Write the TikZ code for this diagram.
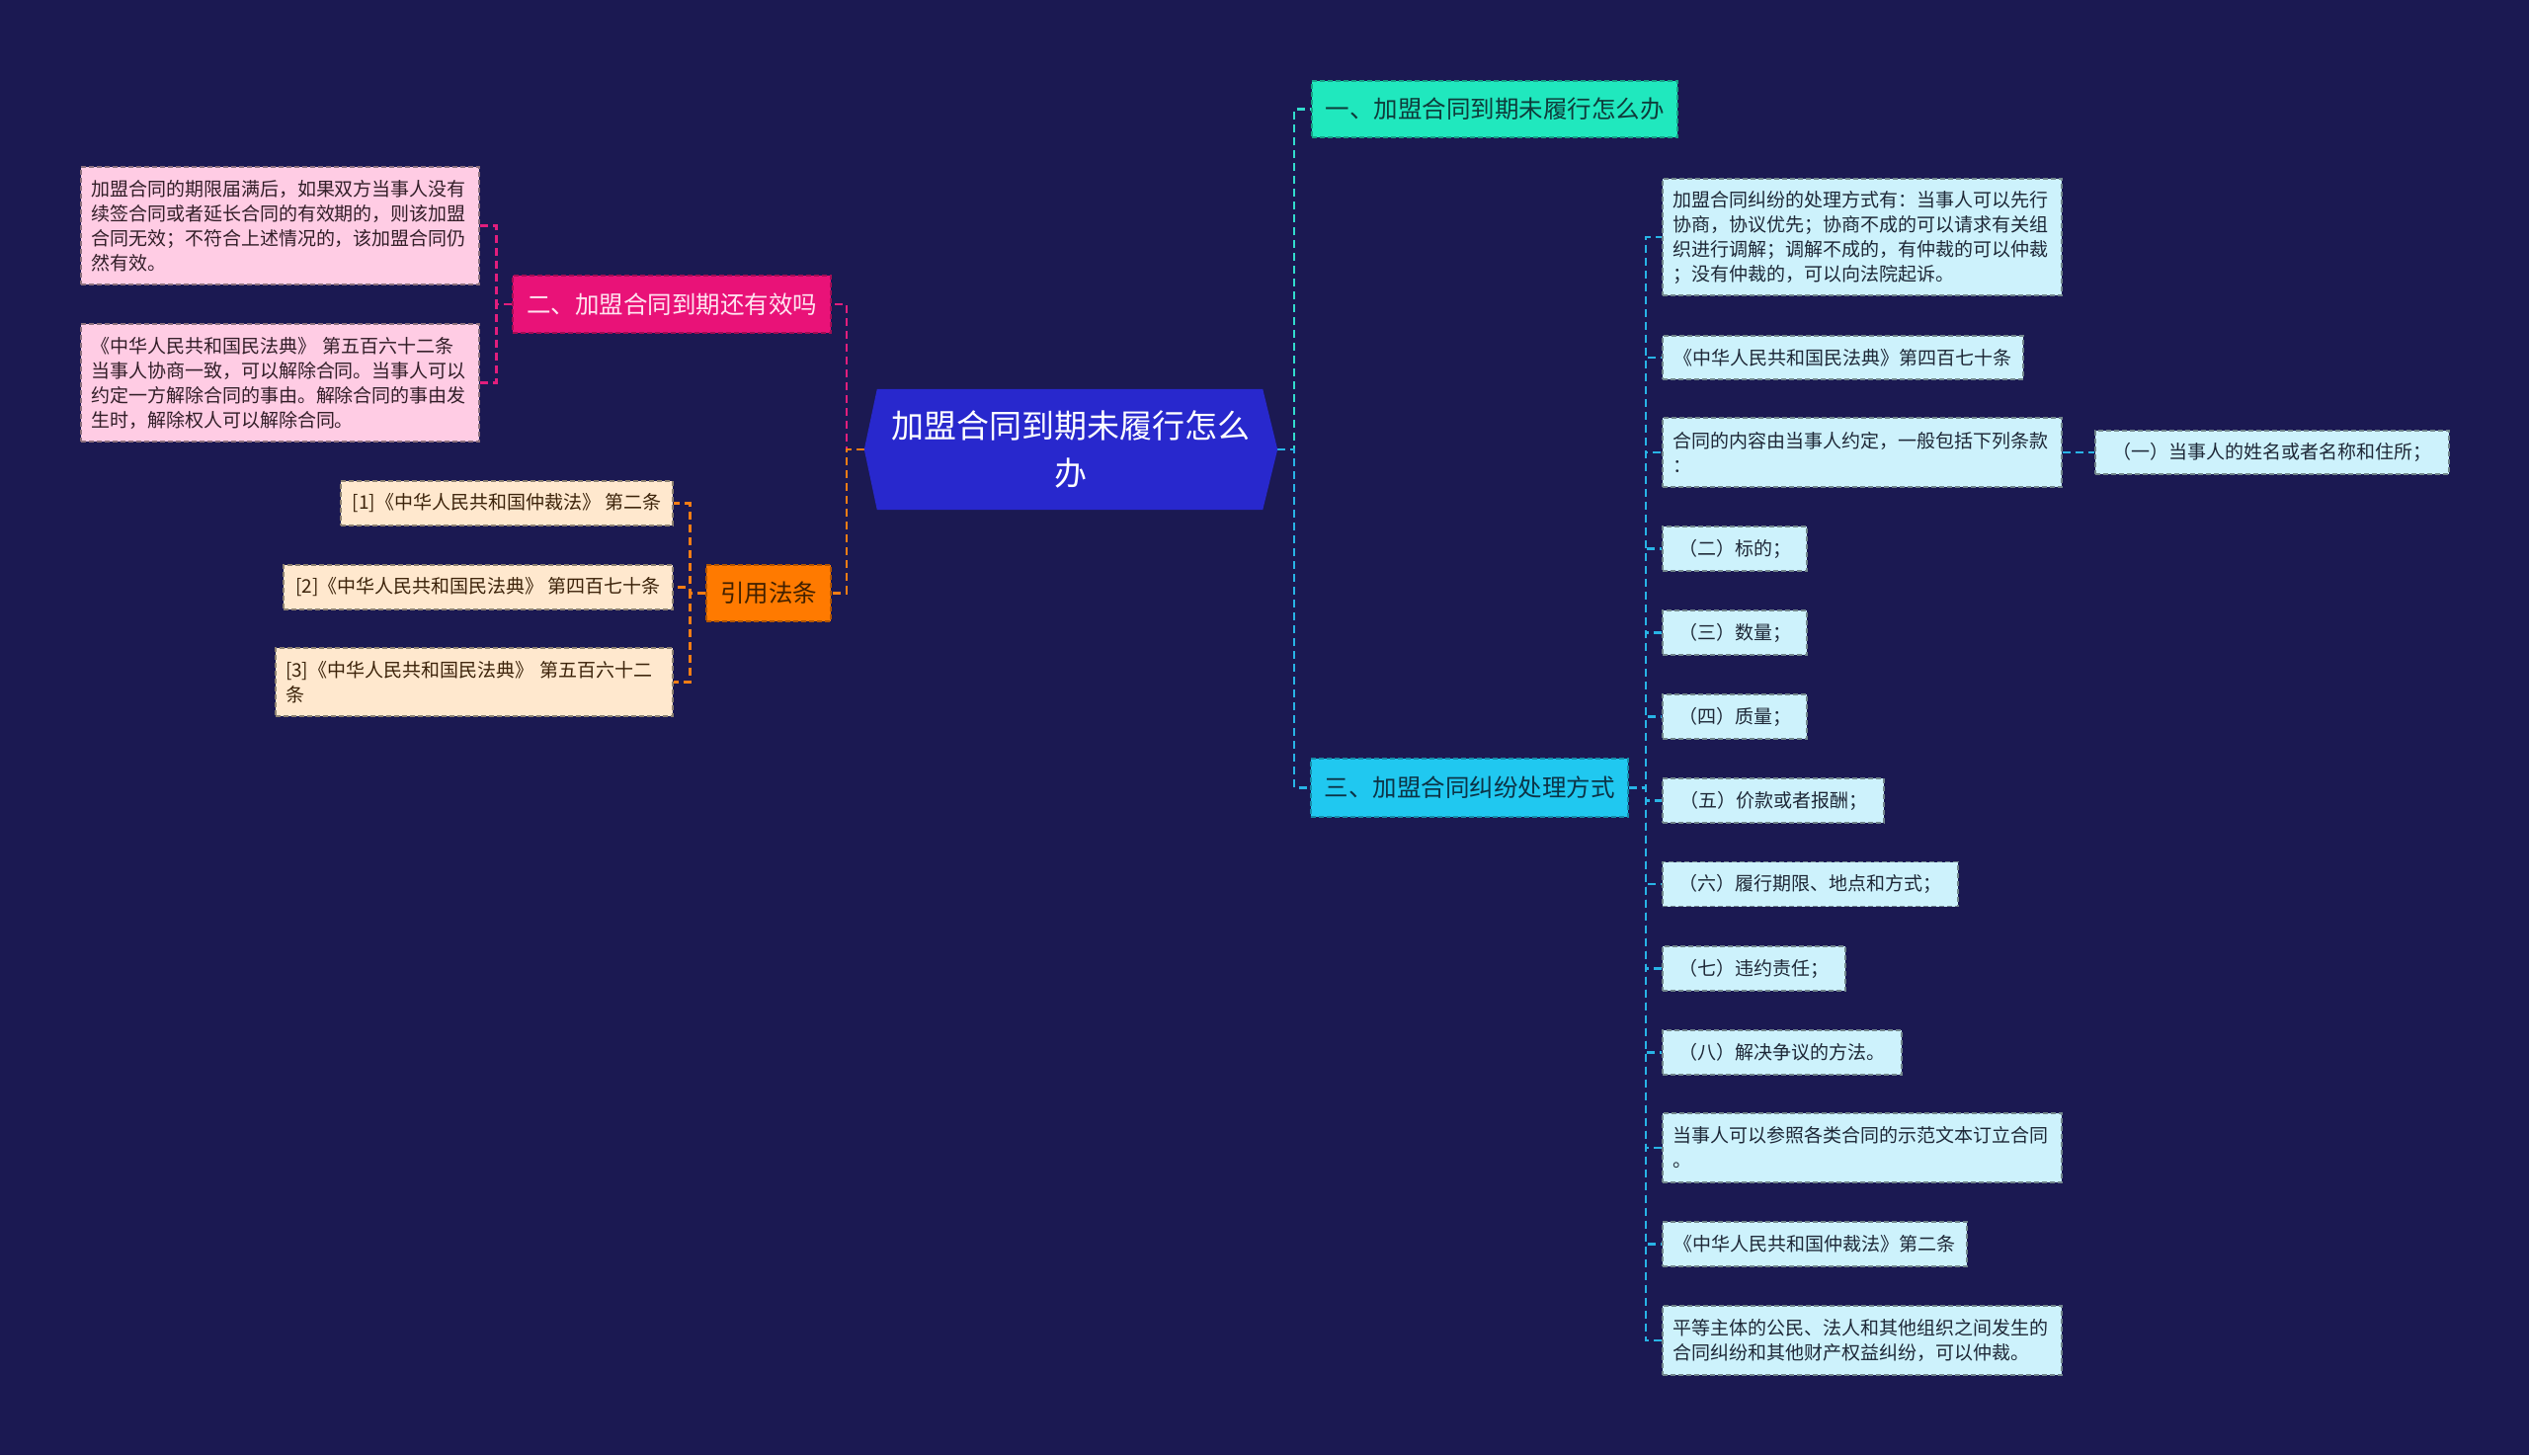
\documentclass[tikz,border=0pt]{standalone}
\usepackage{fontspec}
\newfontfamily\cjk{Noto Sans CJK SC}
\pgfdeclarelayer{bglayer}
\pgfdeclarelayer{links}
\pgfdeclarelayer{shapes}
\pgfsetlayers{bglayer,links,shapes,main}
\definecolor{bg}{RGB}{27,25,82}
\definecolor{cfill}{RGB}{40,40,205}
\definecolor{aqua}{RGB}{32,232,190}
\definecolor{sky}{RGB}{32,200,240}
\definecolor{mag}{RGB}{233,18,120}
\definecolor{org}{RGB}{255,122,0}
\definecolor{lcyan}{RGB}{205,242,252}
\definecolor{lpink}{RGB}{255,204,228}
\definecolor{lbeige}{RGB}{255,232,206}
\definecolor{tdark}{RGB}{30,40,55}
\definecolor{tpinkd}{RGB}{50,30,40}
\definecolor{tbrown}{RGB}{60,35,10}
\definecolor{lkmag}{RGB}{225,30,125}
\definecolor{lkorg}{RGB}{245,125,20}
\definecolor{lkaqua}{RGB}{50,220,205}
\definecolor{lksky}{RGB}{40,180,230}
\tikzset{
  base/.style={inner sep=0pt, font=\cjk\fontsize{19}{25}\selectfont, line width=1.3pt, dash pattern=on 5pt off 3pt},
  leafcyan/.style={base, fill=lcyan, draw=lcyan!55!black, text=tdark},
  leafpink/.style={base, fill=lpink, draw=lpink!55!black, text=tpinkd},
  leafbeige/.style={base, fill=lbeige, draw=lbeige!55!black, text=tbrown},
  multi/.style={align=left, text width=#1},
  lvlone/.style={base, font=\cjk\fontsize{24.5}{30}\selectfont, line width=1.5pt},
  link/.style={line width=2.5pt, dash pattern=on 8pt off 5pt},
}
\begin{document}
\begin{tikzpicture}[x=1pt,y=-1pt]
\begin{pgfonlayer}{bglayer}
\fill[bg] (0,0) rectangle (2560,1473);
\end{pgfonlayer}
\useasboundingbox (0,0) rectangle (2560,1473);

% central
\node[inner sep=0pt, minimum width=418pt, minimum height=122pt, align=center, text=white,
      font=\cjk\fontsize{33}{48}\selectfont] (c) at (1084,455) {加盟合同到期未履行怎么\\办};
\begin{pgfonlayer}{shapes}
\fill[cfill] ([xshift=13pt]c.north west) -- ([xshift=-15pt]c.north east) -- (c.east)
  -- ([xshift=-15pt]c.south east) -- ([xshift=13pt]c.south west) -- (c.west) -- cycle;
\end{pgfonlayer}

% level one
\node[lvlone, fill=aqua, draw=aqua!70!black, text={rgb,255:red,14;green,59;blue,58}, minimum width=370pt, minimum height=57pt] (n1) at (1513,110.5) {一、加盟合同到期未履行怎么办};
\node[lvlone, fill=mag, draw=mag!70!black, text={rgb,255:red,255;green,228;blue,240}, minimum width=322pt, minimum height=58pt] (n2) at (680,308) {二、加盟合同到期还有效吗};
\node[lvlone, fill=sky, draw=sky!70!black, text={rgb,255:red,12;green,51;blue,70}, minimum width=321pt, minimum height=59pt] (n3) at (1487.5,797.5) {三、加盟合同纠纷处理方式};
\node[lvlone, fill=org, draw=org!70!black, text={rgb,255:red,64;green,32;blue,0}, minimum width=126pt, minimum height=57pt] (n4) at (778,600.5) {引用法条};

% left: pink
\node[leafpink, multi=383pt, minimum width=403pt, minimum height=119pt] (p1) at (283.5,228.5)
 {加盟合同的期限届满后，如果双方当事人没有\\续签合同或者延长合同的有效期的，则该加盟\\合同无效；不符合上述情况的，该加盟合同仍\\然有效。};
\node[leafpink, multi=383pt, minimum width=403pt, minimum height=119pt] (p2) at (283.5,387.5)
 {《中华人民共和国民法典》 第五百六十二条\\当事人协商一致，可以解除合同。当事人可以\\约定一方解除合同的事由。解除合同的事由发\\生时，解除权人可以解除合同。};

% left: beige
\node[leafbeige, minimum width=336pt, minimum height=45pt] (r1) at (513,509.5) {[1]《中华人民共和国仲裁法》 第二条};
\node[leafbeige, minimum width=394pt, minimum height=45pt] (r2) at (484,594.5) {[2]《中华人民共和国民法典》 第四百七十条};
\node[leafbeige, multi=382pt, minimum width=402pt, minimum height=69pt] (r3) at (480,690.5) {[3]《中华人民共和国民法典》 第五百六十二\\条};

% right: cyan
\node[leafcyan, multi=384pt, minimum width=404pt, minimum height=118pt] (k1) at (1885,240)
 {加盟合同纠纷的处理方式有：当事人可以先行\\协商，协议优先；协商不成的可以请求有关组\\织进行调解；调解不成的，有仲裁的可以仲裁\\；没有仲裁的，可以向法院起诉。};
\node[leafcyan, minimum width=365pt, minimum height=44pt] (k2) at (1865.5,362) {《中华人民共和国民法典》第四百七十条};
\node[leafcyan, multi=384pt, minimum width=404pt, minimum height=70pt] (k3) at (1885,458) {合同的内容由当事人约定，一般包括下列条款\\：};
\node[leafcyan, minimum width=358pt, minimum height=44pt] (k3a) at (2300,458) {（一）当事人的姓名或者名称和住所；};
\node[leafcyan, minimum width=146pt, minimum height=45pt] (k4) at (1756,555.5) {（二）标的；};
\node[leafcyan, minimum width=146pt, minimum height=45pt] (k5) at (1756,640.5) {（三）数量；};
\node[leafcyan, minimum width=146pt, minimum height=45pt] (k6) at (1756,725.5) {（四）质量；};
\node[leafcyan, minimum width=224pt, minimum height=45pt] (k7) at (1795,810.5) {（五）价款或者报酬；};
\node[leafcyan, minimum width=299pt, minimum height=45pt] (k8) at (1832.5,895) {（六）履行期限、地点和方式；};
\node[leafcyan, minimum width=185pt, minimum height=45pt] (k9) at (1775.5,980.5) {（七）违约责任；};
\node[leafcyan, minimum width=242pt, minimum height=45pt] (k10) at (1804,1065.5) {（八）解决争议的方法。};
\node[leafcyan, multi=384pt, minimum width=404pt, minimum height=70pt] (k11) at (1885,1162) {当事人可以参照各类合同的示范文本订立合同\\。};
\node[leafcyan, minimum width=308pt, minimum height=45pt] (k12) at (1837,1259.5) {《中华人民共和国仲裁法》第二条};
\node[leafcyan, multi=384pt, minimum width=404pt, minimum height=70pt] (k13) at (1885,1357) {平等主体的公民、法人和其他组织之间发生的\\合同纠纷和其他财产权益纠纷，可以仲裁。};

% connectors
\begin{pgfonlayer}{links}
\draw[link, lkmag] (c.west) -- ([xshift=-18pt]c.west) |- (n2.east);
\draw[link, lkorg] (c.west) -- ([xshift=-18pt]c.west) |- (n4.east);
\draw[link, lkaqua] (c.east) -- ([xshift=17pt]c.east) |- (n1.west);
\draw[link, lksky] (c.east) -- ([xshift=17pt]c.east) |- (n3.west);

\foreach \t in {p1,p2}
  \draw[link, lkmag] (n2.west) -- ([xshift=-16pt]n2.west) |- (\t.east);
\foreach \t in {r1,r2,r3}
  \draw[link, lkorg] (n4.west) -- ([xshift=-16pt]n4.west) |- (\t.east);
\foreach \t in {k1,k2,k3,k4,k5,k6,k7,k8,k9,k10,k11,k12,k13}
  \draw[link, lksky] (n3.east) -- ([xshift=17pt]n3.east) |- (\t.west);
\draw[link, lksky] (k3.east) -- (k3a.west);
\end{pgfonlayer}
\end{tikzpicture}
\end{document}
